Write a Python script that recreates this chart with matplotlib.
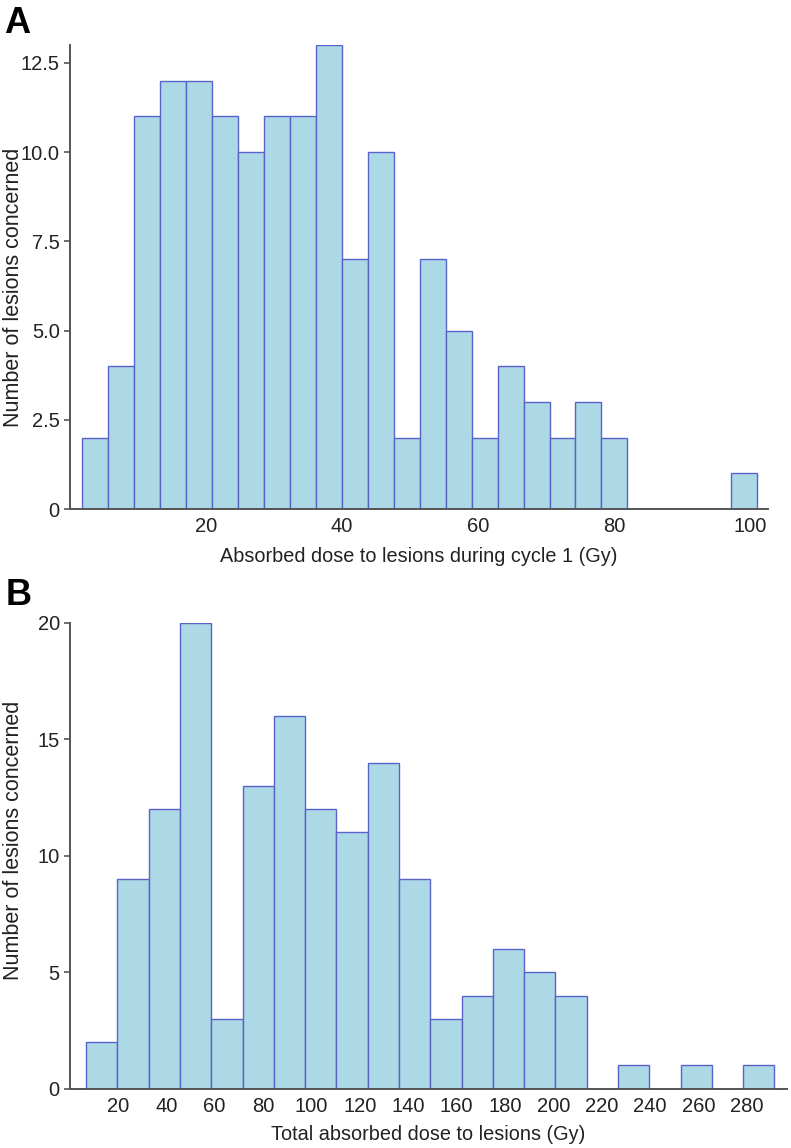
import numpy as np
import matplotlib
matplotlib.use('Agg')
import matplotlib.pyplot as plt

# Panel A: absorbed dose during cycle 1 (26 bins)
dose_c1_min = 1.9
dose_c1_max = 101.0
counts_c1 = [2, 4, 11, 12, 12, 11, 10, 11, 11, 13, 7, 10, 2, 7, 5, 2, 4, 3, 2, 3, 2,
             0, 0, 0, 0, 1]
xticks_c1 = [20, 40, 60, 80, 100]
yticks_c1 = [0, 2.5, 5.0, 7.5, 10.0, 12.5]
yticklabels_c1 = ['0', '2.5', '5.0', '7.5', '10.0', '12.5']

# Panel B: total absorbed dose (22 bins)
dose_tot_min = 6.9
dose_tot_max = 291.3
counts_tot = [2, 9, 12, 20, 3, 13, 16, 12, 11, 14, 9, 3, 4, 6, 5, 4, 0, 1, 0, 1, 0, 1]
xticks_tot = list(range(20, 300, 20))
yticks_tot = [0, 5, 10, 15, 20]

plt.rcParams['font.family'] = ['Liberation Sans', 'DejaVu Sans']

W, H = 791, 1148
fig = plt.figure(figsize=(W / 100, H / 100), dpi=100)

FILL = '#add8e6'
EDGE = '#5a63cc'
SPINE = '#555555'
TXT = '#222222'


def draw_hist(ax, lo, hi, counts):
    counts = np.asarray(counts)
    edges = np.linspace(lo, hi, len(counts) + 1)
    keep = counts > 0
    ax.bar(edges[:-1][keep], counts[keep], width=np.diff(edges)[keep],
           align='edge', color=FILL, edgecolor=EDGE, linewidth=1.0)


def style(ax):
    for s in ['top', 'right']:
        ax.spines[s].set_visible(False)
    for s in ['left', 'bottom']:
        ax.spines[s].set_color(SPINE)
        ax.spines[s].set_linewidth(1.4)
    ax.tick_params(axis='y', length=4, width=1.2, color=SPINE,
                   labelsize=14.5, labelcolor=TXT, pad=3)
    ax.tick_params(axis='x', length=0, labelsize=14.5,
                   labelcolor=TXT, pad=6)


# ---- panel A
axA = fig.add_axes([69.5 / W, 1 - 509 / H, (768 - 69.5) / W, (509 - 45) / H])
draw_hist(axA, dose_c1_min, dose_c1_max, counts_c1)
axA.set_xlim(0, 102.6)
axA.set_ylim(0, 13)
axA.set_xticks(xticks_c1)
axA.set_yticks(yticks_c1)
axA.set_yticklabels(yticklabels_c1)
style(axA)
axA.set_xlabel('Absorbed dose to lesions during cycle 1 (Gy)', fontsize=14.3,
               color=TXT)
axA.xaxis.set_label_coords(0.5, -0.082)
axA.set_ylabel('Number of lesions concerned', fontsize=15.5, color=TXT)
axA.yaxis.set_label_coords(-0.0651, 0.478)

# ---- panel B
axB = fig.add_axes([69.5 / W, 1 - 1088.7 / H, (786.7 - 69.5) / W,
                    (1088.7 - 622.7) / H])
draw_hist(axB, dose_tot_min, dose_tot_max, counts_tot)
axB.set_xlim(0, 296.4)
axB.set_ylim(0, 20)
axB.set_xticks(xticks_tot)
axB.set_yticks(yticks_tot)
style(axB)
axB.set_xlabel('Total absorbed dose to lesions (Gy)', fontsize=14.3,
               color=TXT)
axB.xaxis.set_label_coords(0.5, -0.078)
axB.set_ylabel('Number of lesions concerned', fontsize=15.5, color=TXT)
axB.yaxis.set_label_coords(-0.0634, 0.532)

fig.text(4 / W, 1 - 33 / H, 'A', fontsize=26, fontweight='bold')
fig.text(6 / W, 1 - 605 / H, 'B', fontsize=26, fontweight='bold')

fig.savefig('out.png', dpi=100)
